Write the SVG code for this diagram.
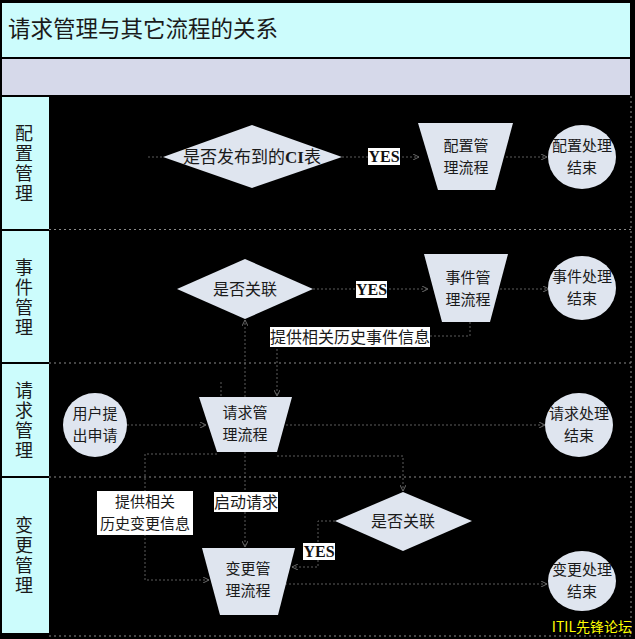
<svg xmlns="http://www.w3.org/2000/svg" width="635" height="639" viewBox="0 0 635 639">
<defs>
<style>
.cjk{font-family:"Noto Sans CJK SC","Liberation Sans",sans-serif;fill:#1a1a1a}
.node{fill:#dfe5ef;stroke:none}
.conn{fill:none;stroke:#5c5c5c;stroke-width:1;stroke-dasharray:2 2}
.sep{stroke:#8a8a8a;stroke-width:1;stroke-dasharray:2 3;fill:none}
.lane{font-family:"Noto Sans CJK SC",sans-serif;font-size:18px;fill:#1a1a1a;text-anchor:middle;writing-mode:vertical-rl;letter-spacing:2px}
.lbl{fill:#ffffff}
.yes{font-family:"Liberation Serif",serif;font-weight:bold;font-size:16px;fill:#111}
</style>
<marker id="arr" viewBox="0 0 6 6" refX="6" refY="3" markerWidth="6" markerHeight="6" orient="auto">
<path d="M0,0 L6,3 L0,6" fill="none" stroke="#6a6a6a" stroke-width="1"/>
</marker>
</defs>
<rect x="0" y="0" width="635" height="639" fill="#000"/>
<g id="title">
<rect x="2" y="3" width="628" height="54" fill="#ccfcfc"/>
<text x="8" y="37" class="cjk" font-size="22.5">请求管理与其它流程的关系</text>
</g>
<rect id="band" x="2" y="59" width="628" height="36" fill="#d6d9ea"/>
<g id="lanes">
<rect x="2" y="97" width="47" height="132" fill="#ccfcfc"/>
<rect x="2" y="231" width="47" height="131" fill="#ccfcfc"/>
<rect x="2" y="364" width="47" height="112" fill="#ccfcfc"/>
<rect x="2" y="478" width="47" height="155" fill="#ccfcfc"/>
<text class="lane" x="24" y="164">配置管理</text>
<text class="lane" x="24" y="298">事件管理</text>
<text class="lane" x="24" y="421">请求管理</text>
<text class="lane" x="24" y="556">变更管理</text>
<path class="sep" d="M49,229.5 H631 M49,363 H631 M49,477 H631 M631,96 V636 M49,636 H631"/>
</g>
<g id="connectors">
<path class="conn" d="M148,157 H163"/>
<path class="conn" d="M342,157 H419" marker-end="url(#arr)"/>
<path class="conn" d="M506,157 H547" marker-end="url(#arr)"/>
<path class="conn" d="M313,289 H428" marker-end="url(#arr)"/>
<path class="conn" d="M500,289 H549" marker-end="url(#arr)"/>
<path class="conn" d="M245,397 V320" marker-end="url(#arr)"/>
<path class="conn" d="M470,322 V336 H277 V396" marker-end="url(#arr)"/>
<path class="conn" d="M221,382 V397"/>
<path class="conn" d="M127,425 H206" marker-end="url(#arr)"/>
<path class="conn" d="M286,425 H545" marker-end="url(#arr)"/>
<path class="conn" d="M217,454 H145 V580 H209" marker-end="url(#arr)"/>
<path class="conn" d="M245,452 V547" marker-end="url(#arr)"/>
<path class="conn" d="M277,456 H403 V491" marker-end="url(#arr)"/>
<path class="conn" d="M335,521 H318 V567 H292" marker-end="url(#arr)"/>
<path class="conn" d="M285,584 H547" marker-end="url(#arr)"/>
</g>
<g id="cfg-decision">
<polygon class="node" points="163,157 252,125 342,157 252,188"/>
<text x="252" y="163" class="cjk" font-size="17" text-anchor="middle">是否发布到的<tspan font-family="Liberation Serif,serif" font-weight="bold">CI</tspan>表</text>
</g>
<g id="cfg-yes">
<rect class="lbl" x="368" y="148" width="32" height="17"/>
<text x="384" y="162" class="yes" text-anchor="middle">YES</text>
</g>
<g id="cfg-process">
<polygon class="node" points="418,123 513,123 495,190 438,190"/>
<text class="cjk" font-size="15" text-anchor="middle"><tspan x="466" y="151">配置管</tspan><tspan x="466" y="173">理流程</tspan></text>
</g>
<g id="cfg-end">
<ellipse class="node" cx="582" cy="157" rx="34" ry="32"/>
<text class="cjk" font-size="15" text-anchor="middle"><tspan x="582" y="151">配置处理</tspan><tspan x="582" y="173">结束</tspan></text>
</g>
<g id="evt-decision">
<polygon class="node" points="177,289 245,259 313,289 245,319"/>
<text x="245" y="295" class="cjk" font-size="16" text-anchor="middle">是否关联</text>
</g>
<g id="evt-yes">
<rect class="lbl" x="356" y="281" width="31" height="17"/>
<text x="371.5" y="295" class="yes" text-anchor="middle">YES</text>
</g>
<g id="evt-process">
<polygon class="node" points="424,254 508,254 490,322 442,322"/>
<text class="cjk" font-size="15" text-anchor="middle"><tspan x="468" y="283">事件管</tspan><tspan x="468" y="305">理流程</tspan></text>
</g>
<g id="evt-end">
<ellipse class="node" cx="582" cy="288" rx="34" ry="32"/>
<text class="cjk" font-size="15" text-anchor="middle"><tspan x="582" y="282">事件处理</tspan><tspan x="582" y="304">结束</tspan></text>
</g>
<g id="evt-info">
<rect class="lbl" x="270" y="327" width="160" height="20"/>
<text x="350" y="343" class="cjk" font-size="16" text-anchor="middle">提供相关历史事件信息</text>
</g>
<g id="req-start">
<ellipse class="node" cx="95" cy="425" rx="32" ry="32"/>
<text class="cjk" font-size="15" text-anchor="middle"><tspan x="95" y="419">用户提</tspan><tspan x="95" y="441">出申请</tspan></text>
</g>
<g id="req-process">
<polygon class="node" points="199,397 292,397 277,452 217,452"/>
<text class="cjk" font-size="15" text-anchor="middle"><tspan x="245" y="418">请求管</tspan><tspan x="245" y="440">理流程</tspan></text>
</g>
<g id="req-end">
<ellipse class="node" cx="579" cy="425" rx="34" ry="32"/>
<text class="cjk" font-size="15" text-anchor="middle"><tspan x="579" y="419">请求处理</tspan><tspan x="579" y="441">结束</tspan></text>
</g>
<g id="chg-info">
<rect class="lbl" x="97" y="491" width="96" height="44"/>
<text class="cjk" font-size="15" text-anchor="middle"><tspan x="145" y="507">提供相关</tspan><tspan x="145" y="529">历史变更信息</tspan></text>
</g>
<g id="start-req">
<rect class="lbl" x="214" y="492" width="64" height="20"/>
<text x="246" y="508" class="cjk" font-size="16" text-anchor="middle">启动请求</text>
</g>
<g id="chg-decision">
<polygon class="node" points="335,521 403,492 472,521 403,551"/>
<text x="403" y="527" class="cjk" font-size="16" text-anchor="middle">是否关联</text>
</g>
<g id="chg-yes">
<rect class="lbl" x="303" y="543" width="32" height="17"/>
<text x="319" y="557" class="yes" text-anchor="middle">YES</text>
</g>
<g id="chg-process">
<polygon class="node" points="202,548 295,548 278,615 220,615"/>
<text class="cjk" font-size="15" text-anchor="middle"><tspan x="248" y="574">变更管</tspan><tspan x="248" y="596">理流程</tspan></text>
</g>
<g id="chg-end">
<ellipse class="node" cx="582" cy="581" rx="34" ry="30"/>
<text class="cjk" font-size="15" text-anchor="middle"><tspan x="582" y="575">变更处理</tspan><tspan x="582" y="597">结束</tspan></text>
</g>
<text x="632" y="632" font-family="Noto Sans CJK SC,sans-serif" font-size="14" fill="#ffff00" text-anchor="end">ITIL先锋论坛</text>
</svg>
